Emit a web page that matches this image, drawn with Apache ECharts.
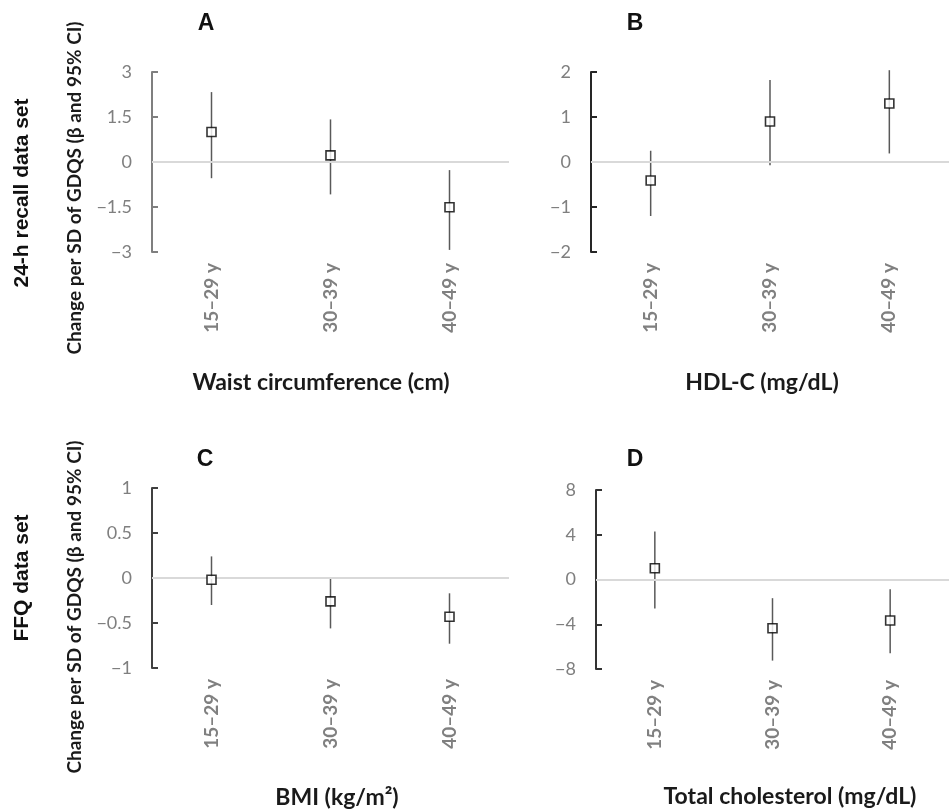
<!DOCTYPE html>
<html>
<head>
<meta charset="utf-8">
<script src="https://cdn.jsdelivr.net/npm/echarts@6/dist/echarts.min.js"></script>
<style>html,body{margin:0;padding:0;background:#fff;}#c{width:949px;height:811px;}</style>
</head>
<body>
<div id="c"></div>
<script>
const categories = ['15–29 y', '30–39 y', '40–49 y'];

// Panel A: Waist circumference (24-h recall)
const betaA = [1.0, 0.22, -1.51];
const lowA = [-0.54, -1.08, -2.93];
const highA = [2.33, 1.42, -0.27];
// Panel B: HDL-C (24-h recall)
const betaB = [-0.41, 0.9, 1.3];
const lowB = [-1.2, -0.07, 0.19];
const highB = [0.25, 1.82, 2.04];
// Panel C: BMI (FFQ)
const betaC = [-0.02, -0.26, -0.43];
const lowC = [-0.30, -0.56, -0.73];
const highC = [0.24, -0.01, -0.17];
// Panel D: Total cholesterol (FFQ)
const betaD = [1.0, -4.36, -3.67];
const lowD = [-2.6, -7.25, -6.6];
const highD = [4.3, -1.67, -0.87];

const yTicksA = { min: -3, max: 3, interval: 1.5 };
const yTicksB = { min: -2, max: 2, interval: 1 };
const yTicksC = { min: -1, max: 1, interval: 0.5 };
const yTicksD = { min: -8, max: 8, interval: 4 };

const panels = [
  { beta: betaA, low: lowA, high: highA, y: yTicksA, axisColor: '#7f7f7f', grid: { left: 152, top: 72, width: 357, height: 180 } },
  { beta: betaB, low: lowB, high: highB, y: yTicksB, axisColor: '#262626', grid: { left: 591, top: 72, width: 360, height: 180 } },
  { beta: betaC, low: lowC, high: highC, y: yTicksC, axisColor: '#404040', grid: { left: 152, top: 488, width: 357, height: 180 } },
  { beta: betaD, low: lowD, high: highD, y: yTicksD, axisColor: '#333333', grid: { left: 596, top: 490, width: 360, height: 179 } }
];

const chart = echarts.init(document.getElementById('c'), null, { renderer: 'canvas' });

const grids = [], xAxes = [], yAxes = [], series = [];
panels.forEach((p, i) => {
  grids.push(Object.assign({ containLabel: false }, p.grid));
  xAxes.push({
    type: 'category', gridIndex: i, data: categories,
    axisLine: { show: false, onZero: false }, axisTick: { show: false },
    splitLine: { show: false },
    axisLabel: { rotate: 90, margin: 11, color: '#808080', fontFamily: 'Lato', fontWeight: 'bold', fontSize: 19 }
  });
  yAxes.push({
    type: 'value', gridIndex: i, min: p.y.min, max: p.y.max, interval: p.y.interval,
    axisLine: { show: true, lineStyle: { color: p.axisColor, width: 2 } },
    axisTick: { show: true, inside: true, length: 6, lineStyle: { color: p.axisColor, width: 2 } },
    splitLine: { show: false },
    axisLabel: { margin: 20, color: '#7f7f7f', fontFamily: 'Lato', fontSize: 18,
      formatter: v => String(v).replace('-', '\u2212') }
  });
  series.push({
    type: 'custom', xAxisIndex: i, yAxisIndex: i, z: 3,
    data: categories.map((c, k) => [k, p.low[k], p.high[k]]),
    renderItem: (params, api) => {
      const a = api.coord([api.value(0), api.value(1)]);
      const b = api.coord([api.value(0), api.value(2)]);
      return { type: 'line', shape: { x1: a[0], y1: a[1], x2: b[0], y2: b[1] },
        style: { stroke: '#595959', lineWidth: 1.5 } };
    },
    markLine: {
      silent: true, symbol: 'none', animation: false,
      label: { show: false },
      lineStyle: { color: '#d9d9d9', width: 2, type: 'solid' },
      data: [{ yAxis: 0 }]
    }
  });
  series.push({
    type: 'scatter', xAxisIndex: i, yAxisIndex: i, z: 5,
    data: categories.map((c, k) => [k, p.beta[k]]),
    symbol: 'rect', symbolSize: 9,
    itemStyle: { color: '#ffffff', borderColor: '#000000', borderWidth: 1.6 }
  });
});

const titleFont = { fontFamily: 'Lato', fontWeight: 'bold', fill: '#1a1a1a', textAlign: 'center', textVerticalAlign: 'middle' };
function txt(text, x, y, size, rot, family, extra) {
  return { type: 'text', x: x, y: y, rotation: rot || 0,
    style: Object.assign({}, titleFont, { text: text, fontSize: size }, family ? { fontFamily: family } : {}, extra || {}) };
}

chart.setOption({
  animation: false,
  grid: grids, xAxis: xAxes, yAxis: yAxes, series: series,
  graphic: [
    txt('A', 206, 24, 23, 0, 'Liberation Sans', { fill: '#111' }),
    txt('B', 635, 24, 23, 0, 'Liberation Sans', { fill: '#111' }),
    txt('C', 205, 460, 23, 0, 'Liberation Sans', { fill: '#111' }),
    txt('D', 635, 460, 23, 0, 'Liberation Sans', { fill: '#111' }),
    txt('24-h recall data set', 22, 193, 21, Math.PI / 2, 'Liberation Sans', { fill: '#111' }),
    txt('FFQ data set', 22, 578, 21, Math.PI / 2, 'Liberation Sans', { fill: '#111' }),
    txt('Change per SD of GDQS (β and 95% CI)', 75, 188, 19, Math.PI / 2),
    txt('Change per SD of GDQS (β and 95% CI)', 75, 607, 19, Math.PI / 2),
    txt('Waist circumference (cm)', 321, 383, 23),
    txt('HDL-C (mg/dL)', 762, 383, 23),
    txt('BMI (kg/m²)', 337, 798, 23),
    txt('Total cholesterol (mg/dL)', 790, 797, 23)
  ]
});
</script>
</body>
</html>
